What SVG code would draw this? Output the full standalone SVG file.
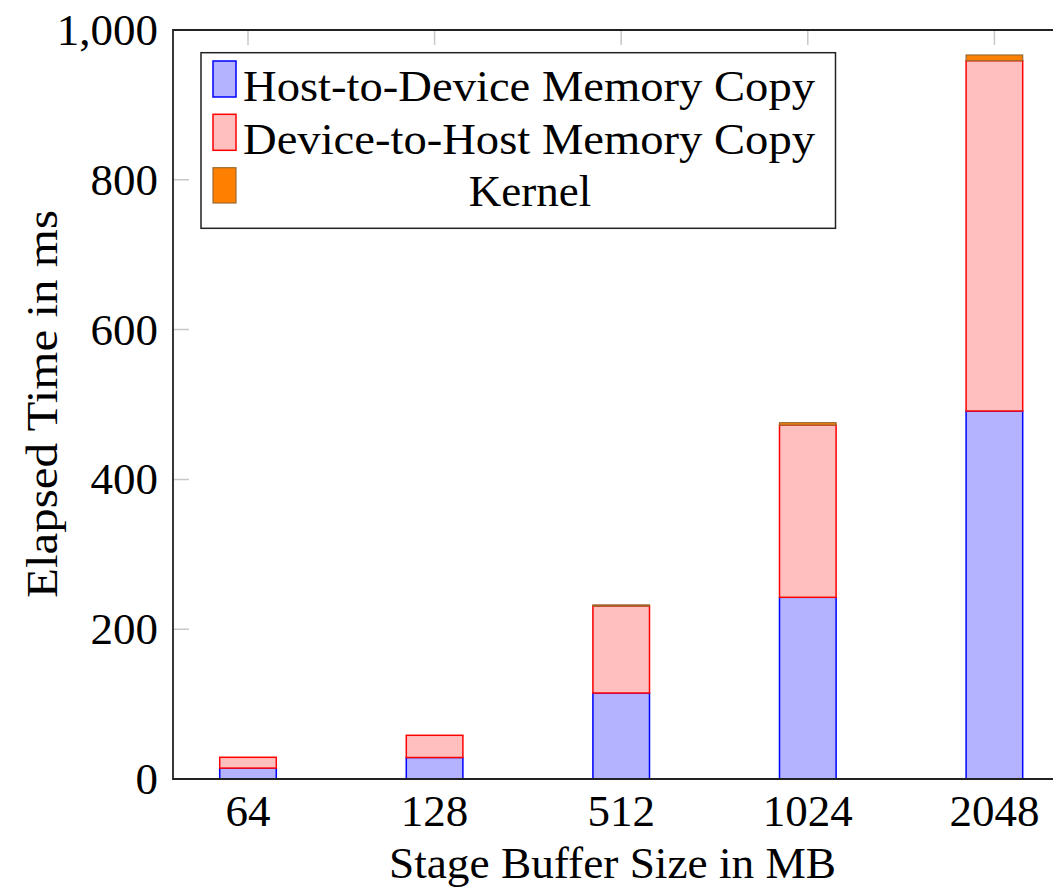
<svg xmlns="http://www.w3.org/2000/svg" width="1053" height="891" viewBox="0 0 1053 891">
<style>
text{font-family:"Liberation Serif","DejaVu Serif",serif;font-size:45px;fill:#000}
.tick{stroke:#c8c8c8;stroke-width:1.5;fill:none}
.h2d{fill:#b3b3ff;stroke:#0000ff;stroke-width:1.5}
.d2h{fill:#ffbfbf;stroke:#ff0000;stroke-width:1.5}
.ker{fill:#ff8000;stroke:#9a6a30;stroke-width:1.2}
.yl{text-anchor:end}
.xl{text-anchor:middle}
</style>
<rect width="1053" height="891" fill="#fff"/>
<g id="ticks">
<path class="tick" d="M248,30V45M434.6,30V45M621.2,30V45M807.8,30V45M994.4,30V45"/>
<path class="tick" d="M173,629.2H189M173,479.4H189M173,329.6H189M173,179.8H189"/>
</g>
<g id="bars">
<g id="bar-64">
<rect class="h2d" x="219.7" y="768.1" width="56.6" height="10.9"/>
<rect class="d2h" x="219.7" y="757.3" width="56.6" height="10.8"/>
</g>
<g id="bar-128">
<rect class="h2d" x="406.3" y="757.5" width="56.6" height="21.5"/>
<rect class="d2h" x="406.3" y="735.3" width="56.6" height="22.2"/>
</g>
<g id="bar-512">
<rect class="h2d" x="592.9" y="693" width="56.6" height="86"/>
<rect class="d2h" x="592.9" y="606" width="56.6" height="87"/>
<rect class="ker" x="592.9" y="604.9" width="56.6" height="1.1"/>
</g>
<g id="bar-1024">
<rect class="h2d" x="779.5" y="597.3" width="56.6" height="181.7"/>
<rect class="d2h" x="779.5" y="425" width="56.6" height="172.3"/>
<rect class="ker" x="779.5" y="422.7" width="56.6" height="2.3"/>
</g>
<g id="bar-2048">
<rect class="h2d" x="966.1" y="411" width="56.6" height="368"/>
<rect class="d2h" x="966.1" y="60.7" width="56.6" height="350.3"/>
<rect class="ker" x="966.1" y="55" width="56.6" height="5.7"/>
</g>
</g>
<g id="axis">
<path d="M1060,30H173V779H1060" fill="none" stroke="#222" stroke-width="1.8"/>
</g>
<g id="ytick-labels">
<text class="yl" x="158" y="45">1,000</text>
<text class="yl" x="158" y="195">800</text>
<text class="yl" x="158" y="345">600</text>
<text class="yl" x="158" y="494">400</text>
<text class="yl" x="158" y="644">200</text>
<text class="yl" x="158" y="794">0</text>
</g>
<g id="xtick-labels">
<text class="xl" x="248" y="826">64</text>
<text class="xl" x="434.6" y="826">128</text>
<text class="xl" x="621.2" y="826">512</text>
<text class="xl" x="807.8" y="826">1024</text>
<text class="xl" x="994.4" y="826">2048</text>
</g>
<text id="xlabel" x="389" y="878" textLength="447" lengthAdjust="spacingAndGlyphs">Stage Buffer Size in MB</text>
<text id="ylabel" transform="translate(57,598) rotate(-90)" x="0" y="0" textLength="388" lengthAdjust="spacingAndGlyphs">Elapsed Time in ms</text>
<g id="legend">
<rect x="201" y="52.7" width="634.5" height="175.6" fill="#fff" stroke="#222" stroke-width="1.5"/>
<rect class="h2d" x="213" y="61" width="23" height="36"/>
<rect class="d2h" x="213" y="114.3" width="23" height="36"/>
<rect class="ker" x="213" y="167.7" width="23" height="35.3"/>
<text x="243" y="101" textLength="572" lengthAdjust="spacingAndGlyphs">Host-to-Device Memory Copy</text>
<text x="243" y="154" textLength="572" lengthAdjust="spacingAndGlyphs">Device-to-Host Memory Copy</text>
<text x="530" y="206" text-anchor="middle">Kernel</text>
</g>
</svg>
